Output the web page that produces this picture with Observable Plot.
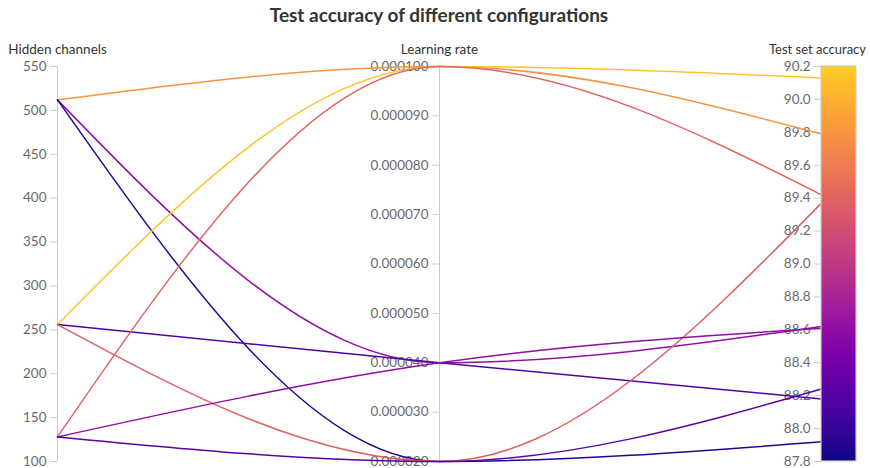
<!DOCTYPE html>
<html><head><meta charset="utf-8">
<script src="https://cdn.jsdelivr.net/npm/d3@7"></script>
<script src="https://cdn.jsdelivr.net/npm/@observablehq/plot@0.6"></script>
<style>
body{margin:0;background:#fff;font-family:Lato,sans-serif;}
#title{height:30px;line-height:30px;text-align:center;font-size:19px;font-weight:700;color:#333;padding-left:8px;box-sizing:border-box;}
#chart svg{display:block;}
</style></head><body>
<div id="title">Test accuracy of different configurations</div>
<div id="chart"></div>
<script>
// ---- data ----
const dimensions = ["Hidden channels", "Learning rate", "Test set accuracy"];
const hiddenChannels = [512, 512, 512, 256, 256, 256, 128, 128, 128];
const learningRates = [0.0001, 0.00004, 0.00002, 0.0001, 0.00004, 0.00002, 0.0001, 0.00004, 0.00002];
const testAccuracy = [89.79, 88.62, 87.92, 90.13, 88.18, 89.37, 89.42, 88.61, 88.24];
const axisDomains = [[100, 550], [0.00002, 0.0001], [87.8, 90.2]];
const hiddenTicks = [100, 150, 200, 250, 300, 350, 400, 450, 500, 550];
const lrTicks = [0.00002, 0.00003, 0.00004, 0.00005, 0.00006, 0.00007, 0.00008, 0.00009, 0.0001];
const accTicks = [87.8, 88.0, 88.2, 88.4, 88.6, 88.8, 89.0, 89.2, 89.4, 89.6, 89.8, 90.0, 90.2];
const tickFormats = [d3.format("d"), d3.format(".6f"), d3.format(".1f")];

const norm = (j, v) => (v - axisDomains[j][0]) / (axisDomains[j][1] - axisDomains[j][0]);

const lineData = [];
testAccuracy.forEach((acc, i) => {
  [hiddenChannels[i], learningRates[i], acc].forEach((v, j) => {
    lineData.push({id: i, dim: j, y: norm(j, v), acc});
  });
});

const tickData = [];
[hiddenTicks, lrTicks, accTicks].forEach((ts, j) => {
  ts.forEach(v => tickData.push({dim: j, y: norm(j, v), label: tickFormats[j](v)}));
});

const titleData = dimensions.map((name, j) => ({name, dim: j}));

// colorbar gradient stops across the accuracy axis
const nStops = 395;
const stops = d3.range(nStops).map(k => {
  const [lo, hi] = axisDomains[2];
  return {y1: k / nStops, y2: (k + 1) / nStops, v: lo + (hi - lo) * (k + 0.5) / nStops};
});

const chart = Plot.plot({
  width: 870,
  height: 438,
  marginLeft: 57,
  marginRight: 49,
  marginTop: 36,
  marginBottom: 7,
  style: {fontFamily: "Lato, sans-serif", background: "#fff"},
  x: {domain: [0, 2], axis: null},
  y: {domain: [0, 1], axis: null},
  color: {type: "linear", domain: axisDomains[2], interpolate: t => d3.interpolatePlasma(0.9 * t)},
  marks: [
    Plot.ruleX([0, 1], {x: d => d, y1: 0, y2: 1, stroke: "#ccc", strokeWidth: 1}),
    Plot.ruleY(tickData, {x1: "dim", x2: "dim", y: "y", stroke: "#ccc", insetLeft: -7}),
    Plot.text(tickData, {x: "dim", y: "y", text: "label", textAnchor: "end", dx: -11, fill: "#6a6a6a", fontSize: 13.5}),
    Plot.line(lineData, {x: "dim", y: "y", z: "id", stroke: "acc", curve: "monotone-x", strokeWidth: 1.5}),
    Plot.rect(stops, {x1: 2, x2: 2, y1: "y1", y2: "y2", fill: "v", insetRight: -35, shapeRendering: "crispEdges"}),
    Plot.rect([0], {x1: 2, x2: 2, y1: 0, y2: 1, fill: "none", stroke: "#ccc", strokeWidth: 1.2, insetRight: -35}),
    Plot.text(titleData.slice(0, 2), {x: "dim", text: "name", frameAnchor: "top", dy: -22, fill: "#333", fontSize: 13.5}),
    Plot.text(titleData.slice(2), {x: "dim", text: "name", frameAnchor: "top", dy: -22, dx: -4, fill: "#333", fontSize: 13})
  ]
});
document.getElementById("chart").appendChild(chart);
</script>
</body></html>
